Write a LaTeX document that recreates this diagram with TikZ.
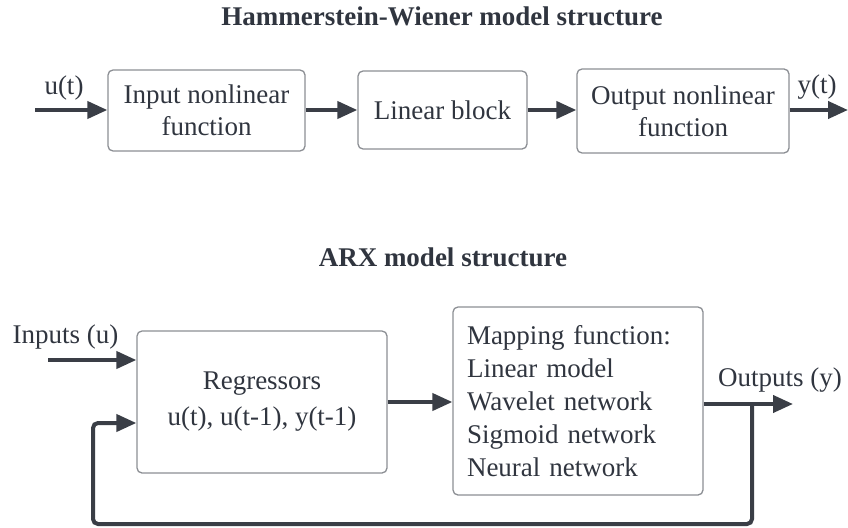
\documentclass[tikz,border=0pt]{standalone}
\usepackage{fontspec}
\setmainfont{Liberation Serif}
\usetikzlibrary{arrows.meta}
\definecolor{ink}{HTML}{30353F}
\definecolor{edge}{HTML}{3A3E46}
\definecolor{frame}{HTML}{8C8F94}

\begin{document}
\begin{tikzpicture}[x=1pt,y=-1pt,
  blk/.style={draw=frame, line width=1.3pt, rounded corners=5pt, fill=white,
    text=ink, align=center, inner sep=0pt, font=\fontsize{27}{32}\selectfont},
  lbl/.style={text=ink, inner sep=0pt, font=\fontsize{27}{32}\selectfont},
  ttl/.style={text=ink, inner sep=0pt, font=\fontsize{27}{32}\selectfont\bfseries},
  flow/.style={draw=edge, line width=4pt, -{Triangle[length=20pt,width=17pt]}},
]
\useasboundingbox (0,0) rectangle (848,527);

% ---- Hammerstein-Wiener chain ----
\node[ttl] (t1) at (442,16) {Hammerstein-Wiener model structure};

\node[blk, minimum width=197pt, minimum height=81pt] (inl) at (206.5,110.5)
  {Input nonlinear\\function};
\node[blk, minimum width=169pt, minimum height=78pt] (lin) at (442.5,110)
  {Linear block};
\node[blk, minimum width=212pt, minimum height=84pt] (onl) at (683,111)
  {Output nonlinear\\function};

\coordinate (uin) at (35,110);
\coordinate (yout) at (848,110);
\node[lbl] (ulab) at (64,88) {u(t)};
\node[lbl] (ylab) at (817,87) {y(t)};

\draw[flow] (uin) -- (uin -| inl.west);
\draw[flow] (uin -| inl.east) -- (uin -| lin.west);
\draw[flow] (uin -| lin.east) -- (uin -| onl.west);
\draw[flow] (uin -| onl.east) -- (yout);

% ---- ARX structure ----
\node[ttl] (t2) at (443,257) {ARX model structure};

\node[blk, minimum width=250pt, minimum height=142pt,
  font=\fontsize{27}{36}\selectfont] (reg) at (262,402)
  {Regressors\\u(t), u(t-1), y(t-1)};
\node[blk, minimum width=250pt, minimum height=188pt, text width=222pt,
  align=left, inner xsep=14pt, font=\fontsize{27}{33}\selectfont] (map) at (578,401)
  {Mapping function:\\Linear model\\Wavelet network\\Sigmoid network\\Neural network};

\node[lbl] (inlab) at (65.5,337) {Inputs (u)};
\node[lbl] (outlab) at (780,380) {Outputs (y)};

\coordinate (uin2) at (48,360);
\coordinate (yend) at (793,404);
\coordinate (tap) at (752,404);
\coordinate (fb1) at (752,524);
\coordinate (fb2) at (93,524);
\coordinate (fb3) at (93,423);

\draw[flow] (uin2) -- (uin2 -| reg.west);
\draw[flow] (reg.east) -- (reg.east -| map.west);
\draw[flow] (yend -| map.east) -- (yend);
\draw[flow, rounded corners=5pt] (tap) -- (fb1) -- (fb2) -- (fb3) -- (fb3 -| reg.west);
\end{tikzpicture}
\end{document}
